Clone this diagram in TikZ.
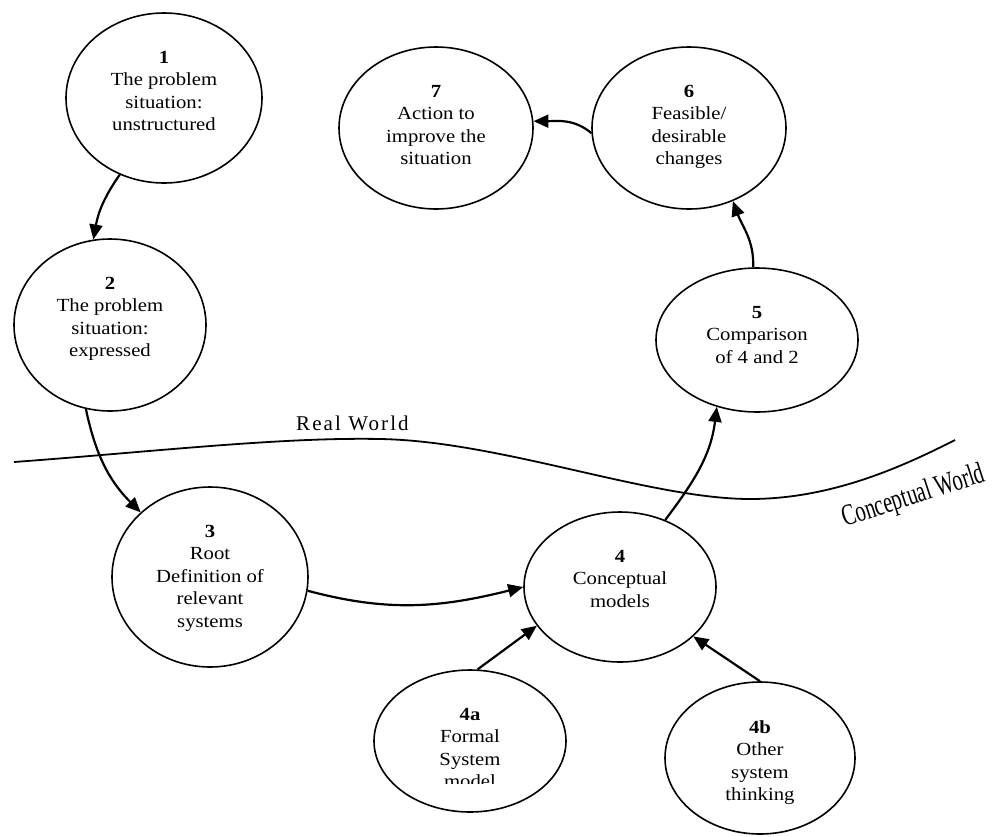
\documentclass[tikz,border=0pt]{standalone}
\usepackage{fontspec}
\usetikzlibrary{shapes.geometric,arrows.meta}
\newfontfamily\labelfont{Liberation Serif}
\newfontfamily\narrowfont[FakeStretch=0.68]{Liberation Serif}
\newfontfamily\stagefont[FakeStretch=1.12]{Liberation Serif}
\begin{document}
\begin{tikzpicture}[x=1pt,y=-1pt,
  stage/.style={ellipse,draw,line width=1.6pt,inner sep=0pt},
  stagetext/.style={align=center,inner sep=0pt,anchor=north,
    font=\stagefont\fontsize{18.5}{22.5}\selectfont},
  flow/.style={line width=2.2pt,-{Triangle[length=15pt,width=13pt]}},
  divider/.style={line width=1.8pt}]
\useasboundingbox (0,0) rectangle (994,836);

% stages of the methodology: outline first, then the wording,
% which hangs from the top of each outline
\node[stage,minimum width=196pt,minimum height=170pt] (n1) at (164,98) {};
\node[stagetext] (t1) at (164,51) {\textbf{1}\\The problem\\situation:\\unstructured};

\node[stage,minimum width=192pt,minimum height=172pt] (n2) at (110,325) {};
\node[stagetext] (t2) at (110,277) {\textbf{2}\\The problem\\situation:\\expressed};

\node[stage,minimum width=196pt,minimum height=180pt] (n3) at (210,577) {};
\node[stagetext] (t3) at (210,525) {\textbf{3}\\Root\\Definition of\\relevant\\systems};

\node[stage,minimum width=192pt,minimum height=150pt] (n4) at (620,587) {};
\node[stagetext] (t4) at (620,550) {\textbf{4}\\Conceptual\\models};

\node[stage,minimum width=192pt,minimum height=142pt] (n4a) at (470,741) {};
\begin{scope}
  \clip (370,660) rectangle (570,783);
  \node[stagetext] (t4a) at (470,708) {\textbf{4a}\\Formal\\System\\model};
\end{scope}

\node[stage,minimum width=190pt,minimum height=152pt] (n4b) at (760,758) {};
\node[stagetext] (t4b) at (760,720) {\textbf{4b}\\Other\\system\\thinking};

\node[stage,minimum width=202pt,minimum height=144pt] (n5) at (757,340) {};
\node[stagetext] (t5) at (757,306) {\textbf{5}\\Comparison\\of 4 and 2};

\node[stage,minimum width=194pt,minimum height=162pt] (n6) at (689,128) {};
\node[stagetext] (t6) at (689,85) {\textbf{6}\\Feasible/\\desirable\\changes};

\node[stage,minimum width=194pt,minimum height=162pt] (n7) at (436,128) {};
\node[stagetext] (t7) at (436,85) {\textbf{7}\\Action to\\improve the\\situation};

% flow between the stages
\draw[flow] (n1.240) to[out=235,in=80] (n2.101);
\draw[flow] (n2.254) to[out=282,in=135] (n3.137);
\draw[flow] (n3.352) to[out=-15,in=194] (n4.180);
\draw[flow] (n4.56) to[out=53,in=263] (n5.239);
\draw[flow] (n5.93) to[out=88,in=290] (n6.301);
\draw[flow] (n6.183) to[out=140,in=0] (n7.4);
\draw[flow] (n4a.84) -- (n4.205);
\draw[flow] (n4b.90) -- (n4.326);

% boundary between the real and the conceptual world
\coordinate (w0) at (14,462);
\coordinate (w1) at (380,439);
\coordinate (w2) at (750,499);
\coordinate (w3) at (955,440);
\draw[divider] (w0) .. controls (150,452) and (280,437) .. (w1)
  .. controls (500,441) and (650,499) .. (w2)
  .. controls (830,499) and (900,468) .. (w3);
\node[anchor=base west,inner sep=0pt,
  font=\labelfont\fontsize{21}{24}\selectfont\addfontfeature{LetterSpace=10}]
  (real) at (296,430) {Real World};
\node[anchor=base,inner sep=0pt,rotate=18,
  font=\narrowfont\fontsize{30}{34}\selectfont]
  (concept) at (916,504) {Conceptual World};
\end{tikzpicture}
\end{document}
